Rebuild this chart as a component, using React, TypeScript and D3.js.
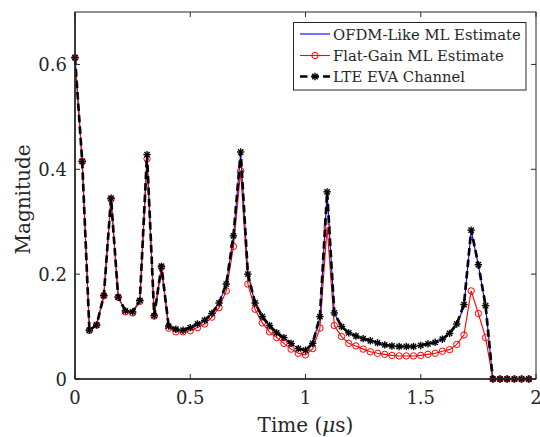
import React from "react";
import * as d3 from "d3";

const sampleCount = 64;
const sampleStep = 1 / 32; // µs

const lteEva = [
  0.613, 0.415, 0.093, 0.103, 0.159, 0.345, 0.156, 0.130, 0.128, 0.150,
  0.428, 0.121, 0.215, 0.101, 0.095, 0.093, 0.098, 0.105, 0.112, 0.125,
  0.145, 0.181, 0.273, 0.433, 0.200, 0.145, 0.119, 0.102, 0.088, 0.079,
  0.068, 0.058, 0.055, 0.068, 0.119, 0.357, 0.126, 0.100, 0.088, 0.082,
  0.077, 0.073, 0.069, 0.065, 0.063, 0.062, 0.062, 0.062, 0.064, 0.067,
  0.070, 0.076, 0.087, 0.105, 0.142, 0.284, 0.218, 0.140, 0, 0,
  0, 0, 0, 0,
];

const ofdmLike = [
  0.613, 0.415, 0.093, 0.103, 0.159, 0.345, 0.156, 0.130, 0.128, 0.150,
  0.426, 0.121, 0.214, 0.101, 0.095, 0.093, 0.098, 0.105, 0.112, 0.125,
  0.145, 0.180, 0.272, 0.431, 0.199, 0.145, 0.119, 0.102, 0.088, 0.079,
  0.068, 0.058, 0.055, 0.068, 0.118, 0.355, 0.125, 0.100, 0.088, 0.082,
  0.077, 0.073, 0.069, 0.065, 0.063, 0.062, 0.062, 0.062, 0.064, 0.067,
  0.070, 0.076, 0.087, 0.104, 0.138, 0.283, 0.217, 0.139, 0, 0,
  0, 0, 0, 0,
];

const flatGain = [
  0.613, 0.415, 0.093, 0.103, 0.159, 0.343, 0.156, 0.128, 0.126, 0.148,
  0.420, 0.120, 0.213, 0.097, 0.090, 0.090, 0.092, 0.098, 0.105, 0.118,
  0.136, 0.168, 0.253, 0.397, 0.181, 0.133, 0.107, 0.090, 0.079, 0.068,
  0.057, 0.049, 0.046, 0.058, 0.097, 0.290, 0.102, 0.081, 0.068, 0.063,
  0.057, 0.052, 0.049, 0.047, 0.045, 0.044, 0.044, 0.044, 0.045, 0.047,
  0.049, 0.053, 0.056, 0.066, 0.084, 0.168, 0.125, 0.079, 0, 0,
  0, 0, 0, 0,
];

const xTicks = [0, 0.5, 1, 1.5, 2];
const xTickLabels = ["0", "0.5", "1", "1.5", "2"];
const yTicks = [0, 0.2, 0.4, 0.6];
const yTickLabels = ["0", "0.2", "0.4", "0.6"];
const legendLabels = ["OFDM-Like ML Estimate", "Flat-Gain ML Estimate", "LTE EVA Channel"];

const W = 540;
const H = 437;
const M = { left: 75, right: 4, top: 12, bottom: 58 };
const FONT = "'DejaVu Serif', serif";
const AX = "#262626";

const times = d3.range(sampleCount).map((i) => i * sampleStep);

export default function App() {
  const x = d3.scaleLinear().domain([0, 2]).range([M.left, W - M.right]);
  const y = d3.scaleLinear().domain([0, 0.7]).range([H - M.bottom, M.top]);
  const line = (vals: number[]) =>
    d3.line<number>().x((_, i) => x(times[i])).y((v) => y(v))(vals) || "";

  const x0 = x(0), x1 = x(2), y0 = y(0), y1 = y(0.7);
  const tl = 5;

  const star = (cx: number, cy: number, r: number, key: string) => {
    const d = r * 0.72;
    return (
      <g key={key} stroke="#000" strokeWidth={1.4}>
        <line x1={cx - r} y1={cy} x2={cx + r} y2={cy} />
        <line x1={cx} y1={cy - r} x2={cx} y2={cy + r} />
        <line x1={cx - d} y1={cy - d} x2={cx + d} y2={cy + d} />
        <line x1={cx - d} y1={cy + d} x2={cx + d} y2={cy - d} />
      </g>
    );
  };

  const lgX = 293.5, lgY = 22.5, lgW = 232.5, lgH = 67.5;
  const rows = [34, 55.5, 76.5];
  const ts = (size: number) => ({ fontFamily: FONT, fontSize: size + "px" });

  return (
    <svg
      width={W}
      height={H}
      style={{ position: "absolute", left: 0, top: 0, background: "#fff" }}
    >
      <rect x={0} y={0} width={W} height={H} fill="#fff" />
      {/* series */}
      <path d={line(ofdmLike)} fill="none" stroke="#0000ff" strokeWidth={1.1} />
      <path d={line(flatGain)} fill="none" stroke="#ff0000" strokeWidth={1.1} />
      {flatGain.map((v, i) => (
        <circle key={"c" + i} cx={x(times[i])} cy={y(v)} r={3.2} fill="none" stroke="#ff0000" strokeWidth={1} />
      ))}
      <path d={line(lteEva)} fill="none" stroke="#000" strokeWidth={2.7} strokeDasharray="7.5,4" />
      {lteEva.map((v, i) => star(x(times[i]), y(v), 3.7, "s" + i))}

      {/* axes box */}
      <rect x={x0} y={y1} width={x1 - x0} height={y0 - y1} fill="none" stroke={AX} strokeWidth={1} />
      <line x1={x0} y1={y0} x2={x1} y2={y0} stroke={AX} strokeWidth={1.6} />
      <line x1={x0} y1={y0} x2={x0} y2={y1} stroke={AX} strokeWidth={1.6} />
      {xTicks.map((t, i) => (
        <g key={"xt" + i}>
          <line x1={x(t)} y1={y0} x2={x(t)} y2={y0 - tl} stroke={AX} />
          <line x1={x(t)} y1={y1} x2={x(t)} y2={y1 + tl} stroke={AX} />
          <text x={x(t)} y={y0 + 25} textAnchor="middle" style={ts(18)} fill={AX}>
            {xTickLabels[i]}
          </text>
        </g>
      ))}
      {yTicks.map((t, i) => (
        <g key={"yt" + i}>
          <line x1={x0} y1={y(t)} x2={x0 + tl} y2={y(t)} stroke={AX} />
          <line x1={x1} y1={y(t)} x2={x1 - tl} y2={y(t)} stroke={AX} />
          <text x={x0 - 8} y={y(t) + 6.5} textAnchor="end" style={ts(18)} fill={AX}>
            {yTickLabels[i]}
          </text>
        </g>
      ))}
      <text x={(x0 + x1) / 2} y={H - 5} textAnchor="middle" style={ts(20)} fill={AX}>
        Time (<tspan fontStyle="italic">μ</tspan>s)
      </text>
      <text
        transform={`translate(30,${(y0 + y1) / 2 + 4}) rotate(-90)`}
        textAnchor="middle"
        style={ts(20)}
        fill={AX}
      >
        Magnitude
      </text>

      {/* legend */}
      <rect x={lgX} y={lgY} width={lgW} height={lgH} fill="#fff" stroke={AX} strokeWidth={1} />
      <line x1={300} y1={rows[0]} x2={330} y2={rows[0]} stroke="#0000ff" strokeWidth={1.1} />
      <line x1={300} y1={rows[1]} x2={330} y2={rows[1]} stroke="#ff0000" strokeWidth={1.1} />
      <circle cx={315} cy={rows[1]} r={3.2} fill="none" stroke="#ff0000" />
      <line x1={300} y1={rows[2]} x2={330} y2={rows[2]} stroke="#000" strokeWidth={2.7} strokeDasharray="7.5,4" />
      {star(315, rows[2], 3.7, "lgs")}
      {legendLabels.map((s, i) => (
        <text key={"lg" + i} x={333} y={rows[i] + 5.5} style={ts(14.8)} fill={AX}>
          {s}
        </text>
      ))}
    </svg>
  );
}
